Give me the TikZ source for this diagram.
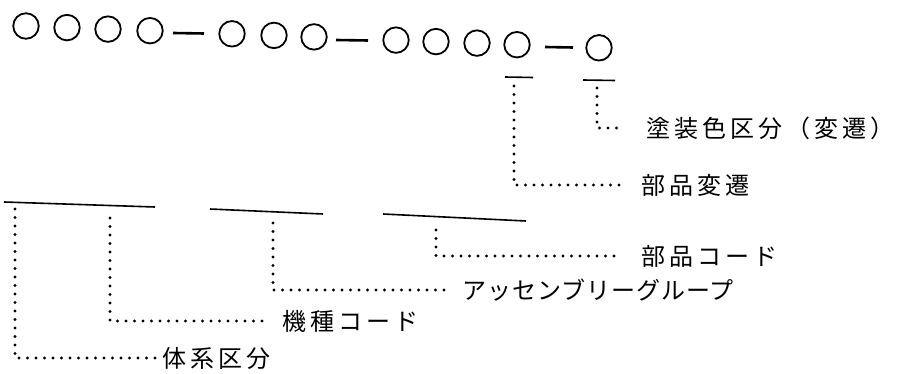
\documentclass[tikz,border=0pt]{standalone}
\usepackage{fontspec}
\newfontfamily\jp[LetterSpace=17]{Noto Sans CJK JP}
\newfontfamily\jpn[LetterSpace=4]{Noto Sans CJK JP}
\begin{document}
\begin{tikzpicture}[x=1pt,y=-1pt,
  ring/.style={circle,draw,line width=1.8pt,minimum size=25.5pt,inner sep=0pt},
  dashbar/.style={line width=2.6pt},
  bar/.style={line width=1.6pt},
  dotline/.style={line width=3.2pt,line cap=round,dash pattern=on 0pt off 8.5pt},
  lab/.style={anchor=west,inner sep=0pt,font=\jp\fontsize{24}{27}\selectfont},
  labn/.style={anchor=west,inner sep=0pt,font=\jpn\fontsize{24}{27}\selectfont}]
\useasboundingbox (0,0) rectangle (899,374);
% code pattern
\node[ring] (c1) at (26,26.0) {};
\node[ring] (c2) at (67,27.6) {};
\node[ring] (c3) at (108,29.1) {};
\node[ring] (c4) at (150,30.7) {};
\node[ring] (c5) at (232,33.8) {};
\node[ring] (c6) at (274,35.4) {};
\node[ring] (c7) at (314,36.9) {};
\node[ring] (c8) at (396,40.1) {};
\node[ring] (c9) at (436,41.6) {};
\node[ring] (c10) at (477,43.1) {};
\node[ring] (c11) at (517,44.7) {};
\node[ring] (c12) at (599,47.8) {};
\draw[dashbar] (173,33) -- (204,33.5);
\draw[dashbar] (336,40) -- (368,40.5);
\draw[dashbar] (545,47) -- (573,47.5);
% bars
\draw[bar] (505,77) -- (533,77.5);
\draw[bar] (583,80) -- (615,80.5);
\draw[bar] (4,202) -- (155,207);
\draw[bar] (210,209) -- (323,214);
\draw[bar] (383,214) -- (526,221);
% labels
\node[lab] (l1) at (646,128) {塗装色区分（変遷）};
\node[lab] (l2) at (641,185) {部品変遷};
\node[lab] (l3) at (641,256) {部品コード};
\node[labn] (l4) at (462,290) {アッセンブリーグループ};
\node[lab] (l5) at (282,321) {機種コード};
\node[lab] (l6) at (162,358) {体系区分};
% connector starts
\coordinate (t1) at (597,88);
\coordinate (t2) at (514,86);
\coordinate (t3) at (436,230);
\coordinate (t4) at (273,223);
\coordinate (t5) at (110,218);
\coordinate (t6) at (15,209);
\draw[dotline] (t1) |- ([xshift=-23pt]l1.west);
\draw[dotline] (t2) |- ([xshift=-21pt]l2.west);
\draw[dotline] (t3) |- ([xshift=-21pt]l3.west);
\draw[dotline] (t4) |- ([xshift=-12pt]l4.west);
\draw[dotline] (t5) |- ([xshift=-12pt]l5.west);
\draw[dotline] (t6) |- ([xshift=-2pt]l6.west);
\end{tikzpicture}
\end{document}
